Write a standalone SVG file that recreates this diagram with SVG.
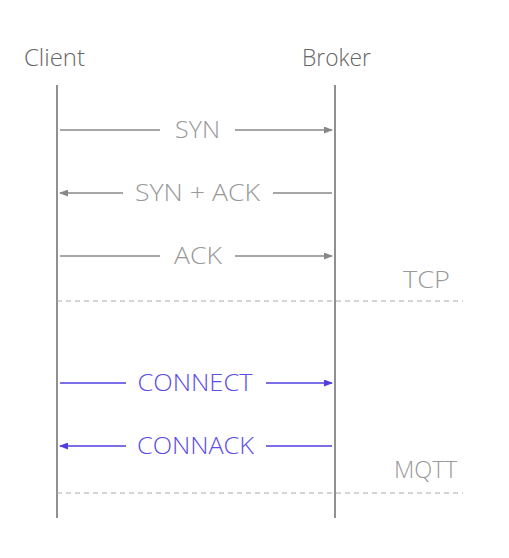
<svg xmlns="http://www.w3.org/2000/svg" width="509" height="558" viewBox="0 0 509 558">
  <style>
    text { font-family: "Open Sans", "Lato", "Liberation Sans", sans-serif; font-weight: 300; font-size: 23px; }
    .hdr { fill: #666; }
    .lbl { fill: #999; text-anchor: middle; }
    .lbl-b { fill: #5b4ee6; text-anchor: middle; }
    .layer { fill: #999; }
    .life { stroke: #555; stroke-width: 1.3; fill: none; }
    .msg { stroke: #888; stroke-width: 1.3; fill: none; }
    .msg-b { stroke: #4f3fe0; stroke-width: 1.3; fill: none; }
    .sep { stroke: #aaa; stroke-width: 1; stroke-dasharray: 5 4; fill: none; }
  </style>
  <defs>
    <marker id="ah" markerWidth="9" markerHeight="7" refX="8" refY="3.5" orient="auto" markerUnits="userSpaceOnUse">
      <path d="M0,0 L9,3.5 L0,7 z" fill="#888"/>
    </marker>
    <marker id="ah-b" markerWidth="9" markerHeight="7" refX="8" refY="3.5" orient="auto" markerUnits="userSpaceOnUse">
      <path d="M0,0 L9,3.5 L0,7 z" fill="#4f3fe0"/>
    </marker>
  </defs>
  <rect width="509" height="558" fill="#fff"/>

  <g id="client">
    <text class="hdr" x="24" y="66" textLength="61" lengthAdjust="spacingAndGlyphs">Client</text>
    <line class="life" x1="57" y1="85" x2="57" y2="518"/>
  </g>
  <g id="broker">
    <text class="hdr" x="302" y="66" textLength="69" lengthAdjust="spacingAndGlyphs">Broker</text>
    <line class="life" x1="335" y1="85" x2="335" y2="518"/>
  </g>
  <g id="tcp-layer">
    <text class="layer" x="403" y="288" textLength="47" lengthAdjust="spacingAndGlyphs">TCP</text>
    <line class="sep" x1="57" y1="301" x2="463" y2="301"/>
  </g>
  <g id="mqtt-layer">
    <text class="layer" x="394" y="478" textLength="63" lengthAdjust="spacingAndGlyphs">MQTT</text>
    <line class="sep" x1="57" y1="493" x2="463" y2="493"/>
  </g>

  <g id="connectors">
    <!-- SYN -->
    <line class="msg" x1="60" y1="130" x2="160" y2="130"/>
    <line class="msg" x1="235" y1="130" x2="332" y2="130" marker-end="url(#ah)"/>
    <text class="lbl" x="197.5" y="138" textLength="45" lengthAdjust="spacingAndGlyphs">SYN</text>
    <!-- SYN + ACK -->
    <line class="msg" x1="123" y1="193" x2="60" y2="193" marker-end="url(#ah)"/>
    <line class="msg" x1="273" y1="193" x2="332" y2="193"/>
    <text class="lbl" x="197.5" y="201" textLength="125" lengthAdjust="spacingAndGlyphs">SYN + ACK</text>
    <!-- ACK -->
    <line class="msg" x1="60" y1="256" x2="160" y2="256"/>
    <line class="msg" x1="235" y1="256" x2="332" y2="256" marker-end="url(#ah)"/>
    <text class="lbl" x="198" y="264" textLength="48" lengthAdjust="spacingAndGlyphs">ACK</text>
    <!-- CONNECT -->
    <line class="msg-b" x1="60" y1="383" x2="126" y2="383"/>
    <line class="msg-b" x1="266" y1="383" x2="332" y2="383" marker-end="url(#ah-b)"/>
    <text class="lbl-b" x="195" y="391" textLength="115" lengthAdjust="spacingAndGlyphs">CONNECT</text>
    <!-- CONNACK -->
    <line class="msg-b" x1="126" y1="446" x2="60" y2="446" marker-end="url(#ah-b)"/>
    <line class="msg-b" x1="266" y1="446" x2="332" y2="446"/>
    <text class="lbl-b" x="195.5" y="454" textLength="117" lengthAdjust="spacingAndGlyphs">CONNACK</text>
  </g>
</svg>
